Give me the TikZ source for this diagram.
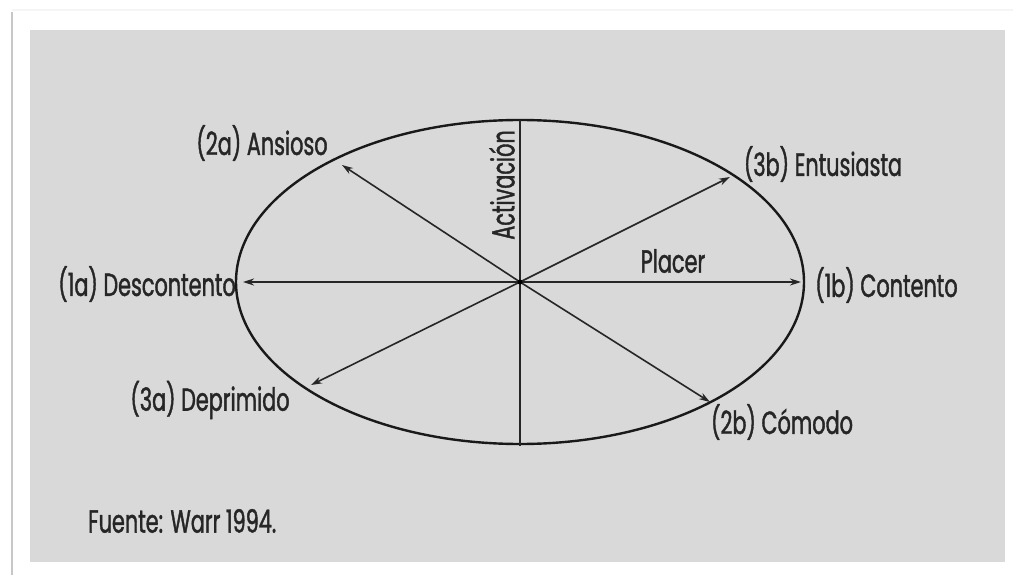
\documentclass[tikz,border=0pt]{standalone}
\usepackage{fontspec}
\setmainfont[FakeStretch=0.65, FakeBold=1.2]{Poppins}
\usetikzlibrary{arrows.meta}

\begin{document}
\begin{tikzpicture}[x=1pt, y=-1pt,
  lbl/.style={font=\fontsize{32}{34}\selectfont, inner sep=0pt, text=black!85},
  spoke/.style={-{Stealth[length=11pt,width=7pt]}, line width=1.6pt, black!85}]
\useasboundingbox (0,0) rectangle (1013,575);
\fill[white] (0,0) rectangle (1013,575);
\draw[black!22, line width=2pt] (12,12) -- (12,575);
\draw[black!4, line width=1.5pt] (12,10) -- (1013,10);
\fill[black!15] (30,30) rectangle (1005,562);

\coordinate (O) at (520,282);
\draw[line width=2.4pt, black!90] (O) ellipse [x radius=284, y radius=162];
\coordinate (top) at (520,120);
\coordinate (bot) at (520,446);
\draw[line width=1.8pt, black!85] (top) -- (bot);

% spoke ends
\coordinate (a1) at (243,282);
\coordinate (b1) at (801,282);
\coordinate (a2) at (342,165);
\coordinate (b2) at (710,402);
\coordinate (a3) at (311,385);
\coordinate (b3) at (730,177);
\foreach \e in {a1,b1,a2,b2,a3,b3}
  \draw[spoke] (O) -- (\e);
\fill[black] (O) circle (2.5);

% labels
\node[lbl] (ans) at (262,143) {(2a) Ansioso};
\node[lbl] (ent) at (823,164) {(3b) Entusiasta};
\node[lbl, anchor=east] (des) at (236,284) {(1a) Descontento};
\node[lbl, anchor=west] (con) at (815,285) {(1b) Contento};
\node[lbl] (dep) at (210,400) {(3a) Deprimido};
\node[lbl] (com) at (782,422) {(2b) Cómodo};
\node[lbl] (pla) at (673,261) {Placer};
\node[lbl, rotate=90] (act) at (502,185) {Activación};
\node[lbl, anchor=west] (src) at (88,521) {Fuente: Warr 1994.};
\end{tikzpicture}
\end{document}
